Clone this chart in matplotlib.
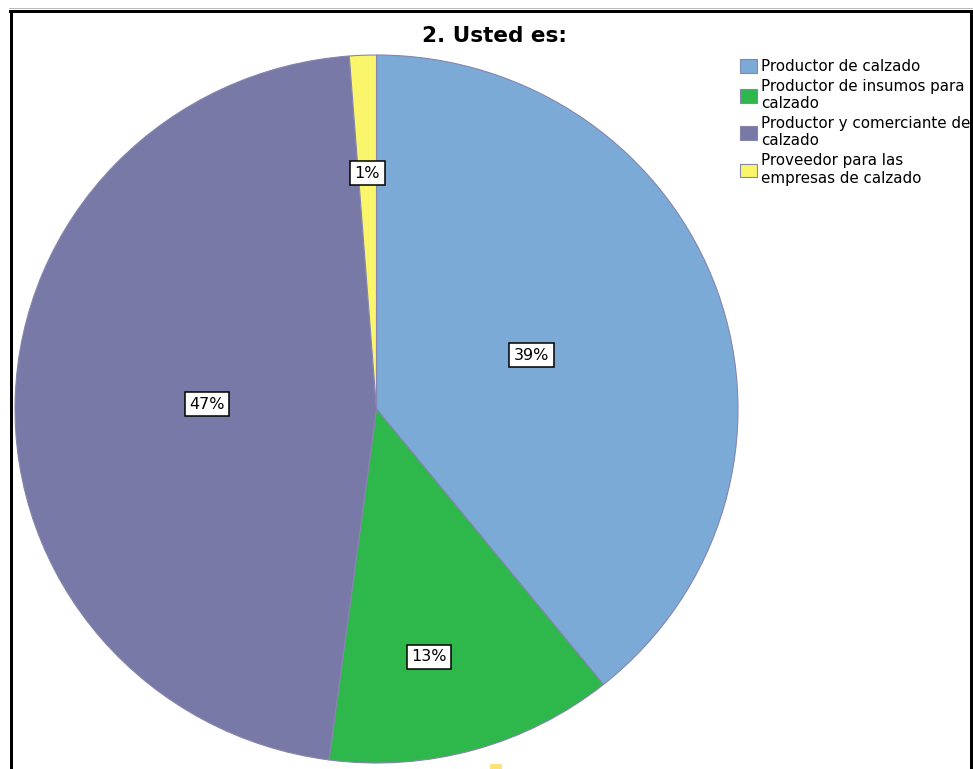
import numpy as np
import matplotlib.pyplot as plt
from matplotlib.lines import Line2D
from matplotlib.patches import Rectangle

plt.rcParams['font.family'] = ['DejaVu Sans']

# data
categories = ['Productor de calzado',
              'Productor de insumos para\ncalzado',
              'Productor y comerciante de\ncalzado',
              'Proveedor para las\nempresas de calzado']
percentages = [39.2, 12.9, 46.7, 1.2]
pct_labels = ['39%', '13%', '47%', '1%']
colors = ['#7BAAD6', '#2EB84B', '#7879A6', '#FAF66B']

# label placement (radius as fraction, small angle nudge in degrees)
label_dist = [0.455, 0.715, 0.469, 0.667]
label_shift = [0, -4, 0, 0]

W, H = 973, 769
fig = plt.figure(figsize=(W / 100, H / 100), dpi=100)
ax = fig.add_axes([15 / W, 6 / H, 723 / W, 708 / H])

wedges, _ = ax.pie(percentages, colors=colors, startangle=90, counterclock=False,
                   wedgeprops=dict(edgecolor='#8585ad', linewidth=0.8))
ax.set_aspect('auto')
ax.set_xlim(-1, 1)
ax.set_ylim(-1, 1)
for w in wedges:
    w.set_clip_on(False)

for w, lab, d, s in zip(wedges, pct_labels, label_dist, label_shift):
    ang = np.deg2rad((w.theta1 + w.theta2) / 2 + s)
    ax.text(d * np.cos(ang), d * np.sin(ang), lab, ha='center', va='center',
            fontsize=11.5,
            bbox=dict(boxstyle='square,pad=0.28', fc='white', ec='black', lw=1.1))

# legend
fig.legend(wedges, categories, loc='upper left',
           bbox_to_anchor=(740 / W, 1 - 59 / H), bbox_transform=fig.transFigure,
           frameon=False, fontsize=10.9, borderpad=0, borderaxespad=0,
           handlelength=1.13, handleheight=1.0, handletextpad=0.27,
           labelspacing=0.32)

# title
fig.text(494 / W, 1 - 36 / H, '2. Usted es:', ha='center', va='center',
         fontsize=15.5, fontweight='bold')

# outer frame
lw = 3 * 0.72
fig.add_artist(Line2D([9 / W, 1], [1 - 8 / H, 1 - 8 / H], transform=fig.transFigure,
                      color='#bbbbbb', lw=0.72))
fig.add_artist(Line2D([11 / W, 11 / W], [0, 1 - 11 / H], transform=fig.transFigure,
                      color='black', lw=lw))
fig.add_artist(Line2D([9.5 / W, 972.5 / W], [1 - 11 / H, 1 - 11 / H],
                      transform=fig.transFigure, color='black', lw=lw))
fig.add_artist(Line2D([971 / W, 971 / W], [0, 1 - 11 / H], transform=fig.transFigure,
                      color='black', lw=lw))
fig.patches.append(Rectangle((490 / W, 0), 12 / W, 5 / H, transform=fig.transFigure,
                             facecolor='#FCE27A', edgecolor='none', figure=fig))

fig.savefig('out.png', dpi=100)
